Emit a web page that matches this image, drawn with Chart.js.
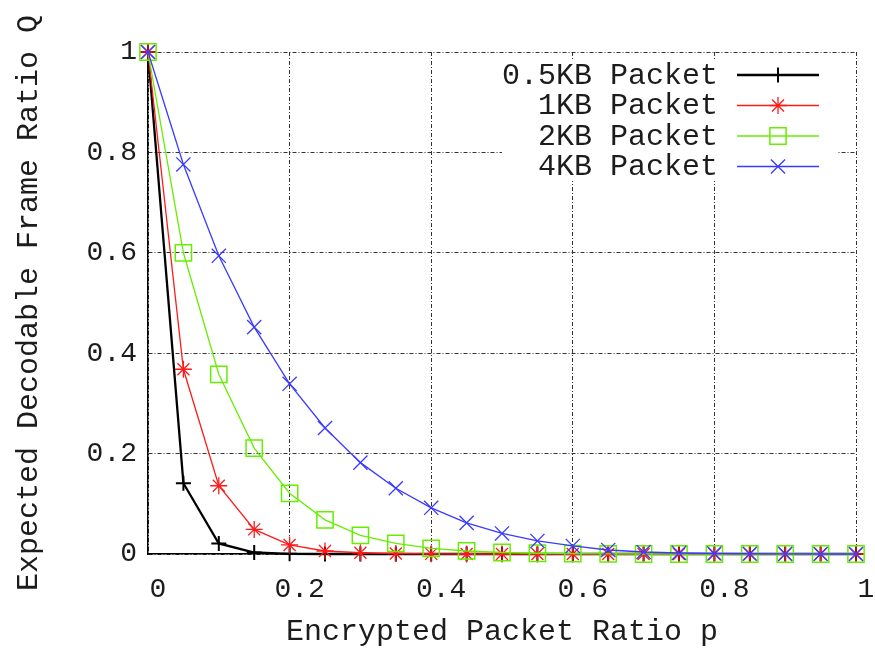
<!DOCTYPE html>
<html>
<head>
<meta charset="utf-8">
<script src="https://cdn.jsdelivr.net/npm/chart.js@4/dist/chart.umd.min.js"></script>
<style>
  html, body { margin: 0; padding: 0; background: #fff; }
  #wrap { width: 875px; height: 648px; }
</style>
</head>
<body>
<div id="wrap"><canvas id="qChart" width="875" height="648"></canvas></div>
<script>
// encrypted packet ratio p (x values)
const pValues = [0, 0.05, 0.1, 0.15, 0.2, 0.25, 0.3, 0.35, 0.4, 0.45, 0.5,
                 0.55, 0.6, 0.65, 0.7, 0.75, 0.8, 0.85, 0.9, 0.95, 1];

// expected decodable frame ratio Q
const q05KB = [1, 0.141, 0.021, 0.003, 0.0004, 0, 0, 0, 0, 0, 0,
               0, 0, 0, 0, 0, 0, 0, 0, 0, 0];
const q1KB  = [1, 0.368, 0.136, 0.049, 0.018, 0.006, 0.0025, 0.001, 0.0003, 0, 0,
               0, 0, 0, 0, 0, 0, 0, 0, 0, 0];
const q2KB  = [1, 0.600, 0.358, 0.211, 0.121, 0.068, 0.037, 0.021, 0.011, 0.006, 0.003,
               0.0015, 0.0007, 0.0003, 0, 0, 0, 0, 0, 0, 0];
const q4KB  = [1, 0.776, 0.594, 0.452, 0.339, 0.251, 0.182, 0.131, 0.092, 0.062, 0.041,
               0.026, 0.016, 0.008, 0.004, 0.002, 0.001, 0.0005, 0.0002, 0, 0];

const seriesLabels = ['0.5KB Packet', '1KB Packet', '2KB Packet', '4KB Packet'];
const yTicks = [0, 0.2, 0.4, 0.6, 0.8, 1];

const FONT = "'Liberation Mono', 'DejaVu Sans Mono', monospace";
const TEXT = '#1c1c1c';
const GRID_DASH = [4, 2, 1, 2];

function toPoints(arr) {
    return arr.map((v, i) => ({ x: pValues[i], y: v }));
}

// gnuplot style numbers: 0, 0.2, ..., 1
function fmt(v) {
    return String(Math.round(v * 10) / 10);
}

// legend drawn the gnuplot way: label right aligned, line sample to the right
const gnuLegend = {
    id: 'gnuLegend',
    afterDatasetsDraw(chart) {
        const ctx = chart.ctx;
        ctx.save();
        ctx.fillStyle = '#fff';
        ctx.fillRect(502, 59, 336, 122);
        ctx.font = '30px ' + FONT;
        ctx.textAlign = 'right';
        ctx.textBaseline = 'middle';
        chart.data.datasets.forEach((ds, i) => {
            const y = 75 + i * 30.5;
            ctx.fillStyle = TEXT;
            ctx.fillText(ds.label, 718, y + 1);
            ctx.strokeStyle = ds.borderColor;
            ctx.lineWidth = ds.borderWidth;
            ctx.beginPath();
            ctx.moveTo(737, y);
            ctx.lineTo(819, y);
            ctx.stroke();
            ctx.lineWidth = ds.pointBorderWidth;
            ctx.fillStyle = 'rgba(0,0,0,0)';
            Chart.helpers.drawPoint(ctx, {
                pointStyle: ds.pointStyle,
                radius: ds.pointRadius,
                rotation: 0,
                borderWidth: ds.pointBorderWidth
            }, 778, y);
        });
        ctx.restore();
    }
};

// later series are painted over earlier ones, like gnuplot does
function makeSet(idx, data, color, width, style, radius, pw) {
    return {
        label: seriesLabels[idx],
        data: toPoints(data),
        order: 3 - idx,
        borderColor: color,
        backgroundColor: color,
        borderWidth: width,
        pointStyle: style,
        pointRadius: radius,
        pointBorderWidth: pw,
        pointBorderColor: color,
        pointBackgroundColor: 'rgba(0,0,0,0)',
        tension: 0,
        clip: false
    };
}

new Chart(document.getElementById('qChart'), {
    type: 'line',
    data: {
        datasets: [
            makeSet(0, q05KB, '#000000', 2.3, 'cross', 7.5, 2),
            makeSet(1, q1KB, '#ff1a1a', 1.3, 'star', 8.5, 1.3),
            makeSet(2, q2KB, '#66ee00', 1.3, 'rect', 11.5, 1.5),
            makeSet(3, q4KB, '#3a3aff', 1.3, 'crossRot', 10, 1.3)
        ]
    },
    options: {
        responsive: false,
        animation: false,
        layout: { padding: { left: 0, right: 19, top: 52, bottom: 0 } },
        plugins: { legend: { display: false }, tooltip: { enabled: false } },
        scales: {
            x: {
                type: 'linear',
                min: 0,
                max: 1,
                afterFit(scale) {
                    scale.height = 94;
                    scale.paddingLeft = 0;
                    scale.paddingRight = 0;
                },
                ticks: {
                    stepSize: 0.2,
                    padding: 19,
                    labelOffset: 10,
                    color: TEXT,
                    font: { family: FONT, size: 28 },
                    maxRotation: 0,
                    callback: fmt
                },
                grid: {
                    color: '#333',
                    lineWidth: 1,
                    drawTicks: false
                },
                border: { display: true, color: '#000', width: 1.5, dash: GRID_DASH },
                title: {
                    display: true,
                    text: 'Encrypted Packet Ratio p',
                    color: TEXT,
                    font: { family: FONT, size: 30, lineHeight: 1 },
                    padding: { top: 0, bottom: 1 }
                }
            },
            y: {
                min: 0,
                max: 1,
                afterFit(scale) { scale.width = 148; },
                afterBuildTicks(scale) { scale.ticks = yTicks.map(v => ({ value: v })); },
                ticks: {
                    padding: 11,
                    color: TEXT,
                    font: { family: FONT, size: 28 },
                    callback: fmt
                },
                grid: {
                    color: '#333',
                    lineWidth: 1,
                    drawTicks: false
                },
                border: { display: true, color: '#000', width: 1.5, dash: GRID_DASH },
                title: {
                    display: true,
                    text: 'Expected Decodable Frame Ratio Q',
                    color: TEXT,
                    font: { family: FONT, size: 30, lineHeight: 1 },
                    padding: { top: 14, bottom: 0 }
                }
            }
        }
    },
    plugins: [gnuLegend]
});
</script>
</body>
</html>
